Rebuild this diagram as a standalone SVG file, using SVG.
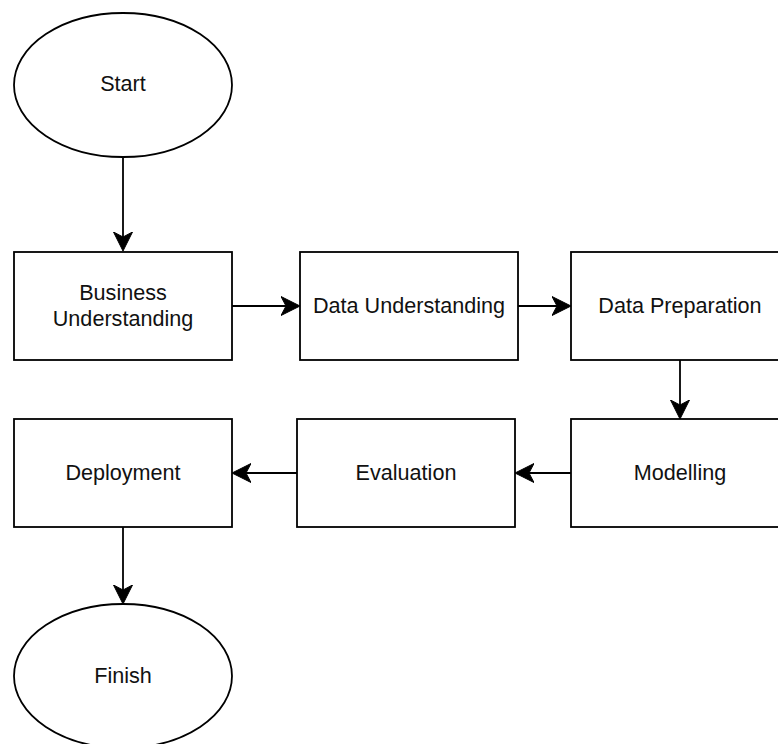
<svg xmlns="http://www.w3.org/2000/svg" width="778" height="744" viewBox="0 0 778 744">
  <style>
    .shape { fill: #ffffff; stroke: #000000; stroke-width: 1.8; }
    .label { font-family: "Liberation Sans", Arial, Helvetica, sans-serif; font-size: 21.6px; fill: #111111; text-anchor: middle; }
    .edge { fill: none; stroke: #000000; stroke-width: 1.8; marker-end: url(#arrow); }
  </style>
  <defs>
    <marker id="arrow" markerUnits="userSpaceOnUse" markerWidth="20" markerHeight="20" viewBox="0 0 20 20" refX="5" refY="10" orient="auto">
      <path d="M0,0.5 L19,10 L0,19.5 L5,10 Z" fill="#000000" stroke="#000000" stroke-width="1"/>
    </marker>
  </defs>
  <rect width="778" height="744" fill="#ffffff"/>

  <g id="connectors">
    <line class="edge" x1="123" y1="157" x2="123" y2="237"/>
    <line class="edge" x1="232" y1="306" x2="286" y2="306"/>
    <line class="edge" x1="518" y1="306" x2="557" y2="306"/>
    <line class="edge" x1="680" y1="360" x2="680" y2="405"/>
    <line class="edge" x1="571" y1="473" x2="529" y2="473"/>
    <line class="edge" x1="297" y1="473" x2="246" y2="473"/>
    <line class="edge" x1="123" y1="527" x2="123" y2="590"/>
  </g>

  <g id="start">
    <ellipse class="shape" cx="123" cy="85" rx="109" ry="72"/>
    <text class="label" x="123" y="91">Start</text>
  </g>

  <g id="business-understanding">
    <rect class="shape" x="14" y="252" width="218" height="108"/>
    <text class="label" x="123" y="300">Business</text>
    <text class="label" x="123" y="326">Understanding</text>
  </g>

  <g id="data-understanding">
    <rect class="shape" x="300" y="252" width="218" height="108"/>
    <text class="label" x="409" y="313">Data Understanding</text>
  </g>

  <g id="data-preparation">
    <rect class="shape" x="571" y="252" width="218" height="108"/>
    <text class="label" x="680" y="313">Data Preparation</text>
  </g>

  <g id="modelling">
    <rect class="shape" x="571" y="419" width="218" height="108"/>
    <text class="label" x="680" y="480">Modelling</text>
  </g>

  <g id="evaluation">
    <rect class="shape" x="297" y="419" width="218" height="108"/>
    <text class="label" x="406" y="480">Evaluation</text>
  </g>

  <g id="deployment">
    <rect class="shape" x="14" y="419" width="218" height="108"/>
    <text class="label" x="123" y="480">Deployment</text>
  </g>

  <g id="finish">
    <ellipse class="shape" cx="123" cy="676" rx="109" ry="72"/>
    <text class="label" x="123" y="683">Finish</text>
  </g>
</svg>
